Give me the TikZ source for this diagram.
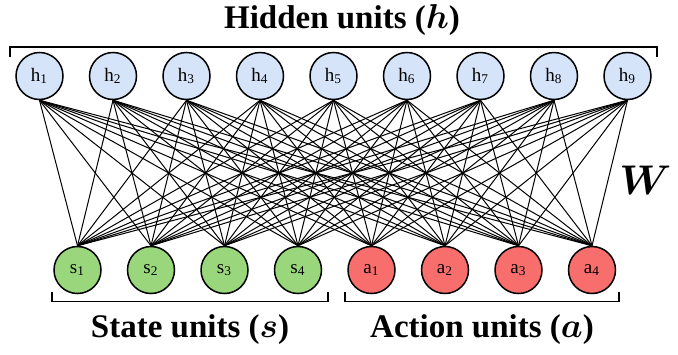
\documentclass[tikz,border=0pt]{standalone}
\usepackage[no-math]{fontspec}
\setmainfont{Liberation Serif}
\definecolor{hidfill}{HTML}{D6E4FA}
\definecolor{statefill}{HTML}{9AD77C}
\definecolor{actfill}{HTML}{F86E6C}
\tikzset{
  unit/.style={circle, draw=black, line width=0.75pt, minimum size=23.5pt, inner sep=0pt,
    font=\fontsize{9.5}{10}\selectfont},
  hid/.style={unit, fill=hidfill},
  st/.style={unit, fill=statefill},
  ac/.style={unit, fill=actfill},
  link/.style={line width=0.5pt},
  brace/.style={line width=0.7pt},
  grouplabel/.style={font=\fontsize{16.5}{18}\selectfont\bfseries, inner sep=0pt}
}
% subscripted unit name with old-style figures
\newcommand{\sub}[2]{#1\textsubscript{\oldstylenums{#2}}}
% bold math-italic letter (Computer Modern cmmib)
\newcommand{\bmi}[1]{{\usefont{OML}{cmm}{b}{it}#1}}
\begin{document}
\begin{tikzpicture}[x=0.5pt,y=-0.5pt]
\useasboundingbox (0,0) rectangle (678,354);
% hidden layer
\foreach \i in {1,...,9}
  \node[hid] (h\i) at ({39.5+73.5*(\i-1)},76) {\sub{h}{\i}};
% visible layer: states and actions
\foreach \i in {1,...,4}
  \node[st] (s\i) at ({77.5+73.5*(\i-1)},270) {\sub{s}{\i}};
\foreach \i in {1,...,4}
  \node[ac] (a\i) at ({371.5+73.5*(\i-1)},270) {\sub{a}{\i}};
% full bipartite weights
\foreach \i in {1,...,9}
  \foreach \j in {s1,s2,s3,s4,a1,a2,a3,a4}
    \draw[link] (h\i.south) -- (\j.north);
% group brackets
\coordinate (hl) at (10,57); \coordinate (hr) at (657,57);
\draw[brace] (hl) -- ++(0,-10) -| (hr);
\coordinate (sl) at (52,292); \coordinate (sr) at (328,292);
\draw[brace] (sl) -- ++(0,9.5) -| (sr);
\coordinate (al) at (345,292); \coordinate (ar) at (619,292);
\draw[brace] (al) -- ++(0,9.5) -| (ar);
% labels
\node[grouplabel] (htitle) at (342,20) {Hidden units (\bmi{h})};
\node[grouplabel] (stitle) at (190,330) {State units (\bmi{s})};
\node[grouplabel] (atitle) at (482,330) {Action units (\bmi{a})};
\node[inner sep=0pt, font=\fontsize{20}{22}\selectfont] (wlabel) at (642,180) {\bmi{W}};
\end{tikzpicture}
\end{document}
